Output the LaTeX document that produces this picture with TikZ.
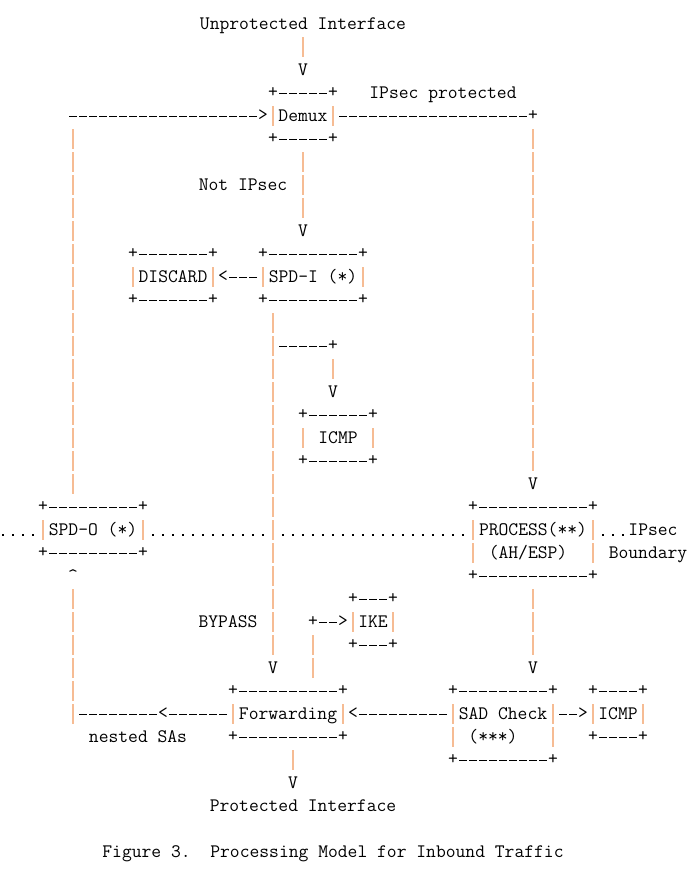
\documentclass[tikz,border=0pt]{standalone}
\usepackage{tikz}
\definecolor{pipeorange}{RGB}{246,188,148}
\newcommand{\asciifont}{\fontsize{14.29pt}{17.25pt}\selectfont\ttfamily\frenchspacing}

\begin{document}
\begin{tikzpicture}[
  x=7.5pt, y=-17.25pt,
  every node/.style={font=\asciifont,inner sep=0pt,outer sep=0pt,text=black},
  txt/.style={minimum height=17.25pt,text height=8.7pt,text depth=0pt},
  glyph/.style={minimum height=17.25pt,text height=7.1pt,text depth=0pt},
  asciibox/.style 2 args={minimum width=#1*7.5pt,minimum height=#2*17.25pt,
    text height=8.7pt,text depth=0pt},
  hdash/.style={draw=black,line width=0.7pt,dash pattern=on 6pt off 1.5pt,dash phase=6.75pt},
  pipe/.style={draw=pipeorange,line width=0.9pt,dash pattern=on 15pt off 2.25pt,dash phase=16.125pt},
  bdots/.style={draw=black,line width=1.3pt,dash pattern=on 1.3pt off 6.2pt,dash phase=4.4pt,
    transform canvas={yshift=-3.75pt}}
]
\useasboundingbox (-0.3,-1.0435) rectangle (69.4,37.348);

% Free labels
\node[txt] (unprot)    at (30,0)    {Unprotected Interface};
\node[txt] (ipsecprot) at (44,3)    {IPsec protected};
\node[txt] (notipsec)  at (24,7)    {Not IPsec};
\node[txt] (ipsecb)    at (65,22)   {IPsec};
\node[txt] (boundary)  at (64.5,23) {Boundary};
\node[txt] (bypass)    at (22.5,26) {BYPASS};
\node[txt] (nested)    at (13.5,31) {nested SAs};
\node[txt] (prot)      at (30,34)   {Protected Interface};
\node[txt] (caption)   at (33,36)   {Figure 3.\ \ Processing Model for Inbound Traffic};

% Boxes
\node[asciibox={7}{3}]  (demux)   at (30,4)      {Demux};
\node[asciibox={9}{3}]  (discard) at (17,11)     {DISCARD};
\node[asciibox={11}{3}] (spdi)    at (31,11)     {SPD-I (*)};
\node[asciibox={8}{3}]  (icmpa)   at (33.5,18)   {ICMP};
\node[asciibox={11}{3}] (spdo)    at (9,22)      {SPD-O (*)};
\node[asciibox={13}{4}] (process) at (53,22.5)   {};
\node[asciibox={5}{3}]  (ike)     at (37,26)     {IKE};
\node[asciibox={12}{3}] (fwd)     at (28.5,30)   {Forwarding};
\node[asciibox={11}{4}] (sad)     at (50,30.5)   {};
\node[asciibox={6}{3}]  (icmpb)   at (61.5,30)   {ICMP};

% Two-line box texts
\node[txt] (process1) at (53,22)   {PROCESS(**)};
\node[txt] (process2) at (52.5,23) {(AH/ESP)};
\node[txt] (sad1)     at (50,30)   {SAD Check};
\node[txt] (sad2)     at (49,31)   {(***)};

% Box frames
\foreach \b in {demux,discard,spdi,icmpa,spdo,process,ike,fwd,sad,icmpb}{
  \draw[hdash] ([shift={(1,0.5)}]\b.north west) -- ([shift={(-1,0.5)}]\b.north east);
  \draw[hdash] ([shift={(1,-0.5)}]\b.south west) -- ([shift={(-1,-0.5)}]\b.south east);
  \draw[pipe] ([shift={(0.5,1)}]\b.north west) -- ([shift={(0.5,-1)}]\b.south west);
  \draw[pipe] ([shift={(-0.5,1)}]\b.north east) -- ([shift={(-0.5,-1)}]\b.south east);
  \node[glyph] (\b-nw) at ([shift={(0.5,0.5)}]\b.north west) {+};
  \node[glyph] (\b-ne) at ([shift={(-0.5,0.5)}]\b.north east) {+};
  \node[glyph] (\b-sw) at ([shift={(0.5,-0.5)}]\b.south west) {+};
  \node[glyph] (\b-se) at ([shift={(-0.5,-0.5)}]\b.south east) {+};
}

% Arrow heads
\node[txt]   (v0)    at (30,2)  {V};
\node[glyph] (rarr1) at (26,4)  {>};
\node[txt]   (v1)    at (30,9)  {V};
\node[glyph] (larr1) at (22,11) {<};
\node[txt]   (v2)    at (33,16) {V};
\node[txt]   (v3)    at (53,20) {V};
\node[txt]   (up1)   at (7,24)  {\textasciicircum};
\node[glyph] (rarr2) at (34,26) {>};
\node[txt]   (v4)    at (27,28) {V};
\node[txt]   (v5)    at (53,28) {V};
\node[glyph] (larr2) at (16,30) {<};
\node[glyph] (larr3) at (35,30) {<};
\node[glyph] (rarr3) at (58,30) {>};
\node[txt]   (v6)    at (29,33) {V};

% Junctions
\node[glyph] (j1) at (53,4)  {+};
\node[glyph] (j2) at (33,14) {+};
\node[glyph] (j3) at (31,26) {+};
\coordinate (k1) at (7,4);
\coordinate (k2) at (27,14);
\coordinate (k3) at (7,30);
\coordinate (bl) at (-0.5,22);
\coordinate (cross) at (27,22);

% Inbound side
\draw[pipe] (unprot) -- (v0);
\draw[pipe] (demux) -- (v1);
\draw[hdash] (demux) -- (j1);
\draw[pipe] (j1) -- (v3);
\draw[hdash] (spdi) -- (larr1);
\draw[pipe] (v4 |- spdi.south) -- (v4);
\draw[hdash,shorten >=3.75pt] (j2) -- (k2);
\draw[pipe] (j2) -- (v2);
\draw[pipe] (process) -- (v5);

% Forwarding and nested SAs
\draw[hdash] (sad.west |- larr3) -- (larr3);
\draw[hdash] (sad.east |- rarr3) -- (rarr3);
\draw[hdash] (fwd) -- (larr2);
\draw[hdash,shorten >=3.75pt] (larr2) -- (k3);
\draw[pipe,shorten <=-8.625pt] (k3) -- (up1);
\draw[pipe,shorten <=8.625pt] (k1) -- (spdo.north -| k1);
\draw[hdash,shorten >=-3.75pt] (rarr1) -- (k1);
\draw[pipe] (fwd.north -| j3) -- (j3);
\draw[hdash] (j3) -- (rarr2);
\draw[pipe] (fwd.south -| v6) -- (v6);

% IPsec boundary
\draw[bdots] (bl) -- (spdo);
\draw[bdots,shorten >=3.75pt] (spdo) -- (cross);
\draw[bdots,shorten >=3.75pt] (process.west |- cross) -- (cross);
\draw[bdots] (process.east |- ipsecb) -- (ipsecb);

\end{tikzpicture}
\end{document}
